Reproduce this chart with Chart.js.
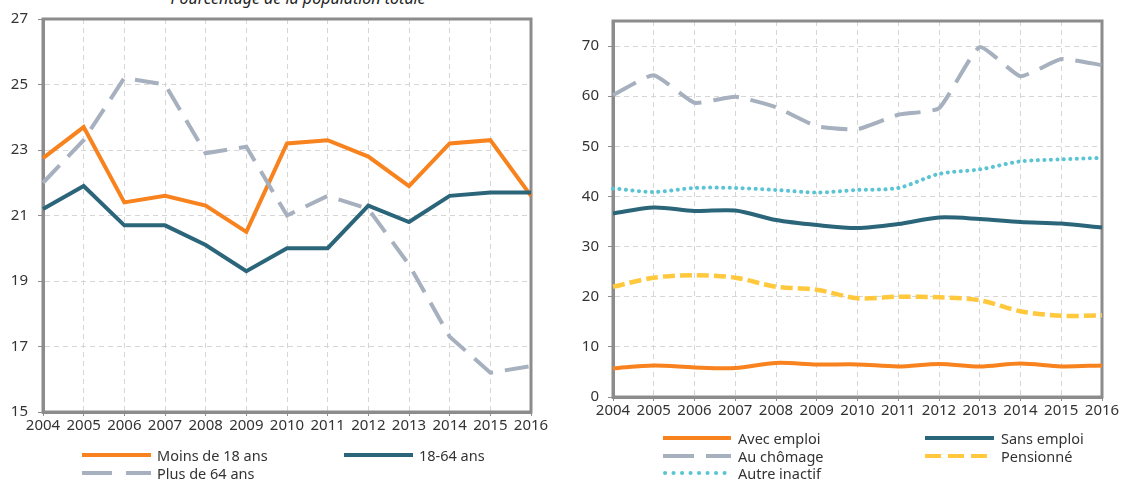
<!DOCTYPE html>
<html lang="fr">
<head>
<meta charset="utf-8">
<script src="https://cdn.jsdelivr.net/npm/chart.js@4.4.1/dist/chart.umd.min.js"></script>
<style>
  html, body { margin: 0; padding: 0; background: #fff; }
  body { width: 1121px; height: 482px; position: relative; overflow: hidden;
         font-family: "Noto Sans", "DejaVu Sans", sans-serif; color: #333; }
  canvas { position: absolute; top: 0; }
  #leftChart { left: 0; }
  #rightChart { left: 560px; }
  .title { position: absolute; left: 40px; width: 516px; top: -9px; line-height: 14px;
           text-align: center; font-style: italic; font-size: 16px; color: #222; }
  .lg { position: absolute; font-size: 14.5px; line-height: 18px; white-space: nowrap; color: #333; }
  svg.lgs { position: absolute; left: 0; top: 0; overflow: visible; }
</style>
</head>
<body>
<div class="title">Pourcentage de la population totale</div>
<canvas id="leftChart" width="560" height="440"></canvas>
<canvas id="rightChart" width="561" height="440"></canvas>
<svg class="lgs" width="1121" height="482" id="legendLines"></svg>
<div id="legendText"></div>

<script>
// years on both x axes
const years = ["2004", "2005", "2006", "2007", "2008", "2009", "2010",
  "2011", "2012", "2013", "2014", "2015", "2016"];

// left panel: share of total population, by age
const moins18 = [22.75, 23.7, 21.4, 21.6, 21.3, 20.5, 23.2, 23.3, 22.8, 21.9, 23.2, 23.3, 21.6];
const age1864 = [21.2, 21.9, 20.7, 20.7, 20.1, 19.3, 20.0, 20.0, 21.3, 20.8, 21.6, 21.7, 21.7];
const plus64 = [22.0, 23.3, 25.2, 25.0, 22.9, 23.1, 21.0, 21.6, 21.2, 19.5, 17.3, 16.2, 16.4];

// right panel: by activity status
const avecEmploi = [5.7, 6.3, 5.9, 5.8, 6.8, 6.5, 6.5, 6.1, 6.6, 6.1, 6.7, 6.1, 6.3];
const sansEmploi = [36.6, 37.8, 37.1, 37.2, 35.3, 34.3, 33.7, 34.5, 35.8, 35.5, 34.9, 34.6, 33.8];
const auChomage = [60.2, 64.2, 58.7, 59.9, 57.8, 54.0, 53.4, 56.3, 57.6, 69.8, 64.0, 67.4, 66.2];
const pensionne = [22.0, 23.8, 24.3, 23.8, 22.0, 21.4, 19.7, 20.0, 19.9, 19.3, 17.1, 16.2, 16.3];
const autreInactif = [41.6, 40.9, 41.7, 41.7, 41.3, 40.8, 41.3, 41.7, 44.5, 45.4, 47.0, 47.4, 47.7];

const leftTicks = [15, 17, 19, 21, 23, 25, 27];
const rightTicks = [0, 10, 20, 30, 40, 50, 60, 70];

const ORANGE = "#F7821E";
const TEAL = "#2B657A";
const GREY = "#A6B0BE";
const YELLOW = "#FFC83D";
const CYAN = "#5BC4D4";
const AXIS = "#8C8C8C";

Chart.defaults.font.family = '"Noto Sans", "DejaVu Sans", sans-serif';
Chart.defaults.font.size = 15;
Chart.defaults.color = "#333";

// closes the plot box on top and right
const frame = {
  id: "frame",
  beforeDatasetsDraw(chart) {
    const a = chart.chartArea;
    const ctx = chart.ctx;
    ctx.save();
    ctx.strokeStyle = AXIS;
    ctx.lineWidth = 3;
    ctx.strokeRect(a.left, a.top, a.right - a.left, a.bottom - a.top);
    ctx.restore();
  },
};

const makeScales = (min, max, tickList, yWidth, xHeight, yPad) => ({
  x: {
    type: "category",
    offset: false,
    grid: { color: "#D6D6D6", offset: false, tickLength: 4, tickColor: AXIS, tickBorderDash: [] },
    border: { display: true, color: AXIS, width: 3, dash: [5, 4] },
    ticks: { autoSkip: false, maxRotation: 0, padding: 1 },
    afterFit: (s) => { s.height = xHeight; },
  },
  y: {
    min: min,
    max: max,
    grid: { color: "#D6D6D6", tickLength: 5, tickColor: AXIS, tickBorderDash: [] },
    border: { display: true, color: AXIS, width: 3, dash: [5, 4] },
    ticks: { padding: yPad },
    afterBuildTicks: (s) => { s.ticks = tickList.map((v) => ({ value: v })); },
    afterFit: (s) => { s.width = yWidth; },
  },
});

const line = (label, data, color, width, dash, extra) => Object.assign({
  label: label,
  data: data,
  borderColor: color,
  backgroundColor: color,
  borderWidth: width,
  borderDash: dash,
  pointRadius: 0,
  fill: false,
}, extra || {});

new Chart(document.getElementById("leftChart"), {
  type: "line",
  data: {
    labels: years,
    datasets: [
      line("Plus de 64 ans", plus64, GREY, 4, [24, 12], { tension: 0 }),
      line("18-64 ans", age1864, TEAL, 4, [], { tension: 0 }),
      line("Moins de 18 ans", moins18, ORANGE, 4, [], { tension: 0 }),
    ],
  },
  options: {
    responsive: false,
    animation: false,
    devicePixelRatio: 1,
    layout: { padding: { left: 0, top: 17, right: 29, bottom: 0 } },
    plugins: { legend: { display: false }, tooltip: { enabled: false } },
    scales: makeScales(15, 27, leftTicks, 43, 28, 10),
  },
  plugins: [frame],
});

new Chart(document.getElementById("rightChart"), {
  type: "line",
  data: {
    labels: years,
    datasets: [
      line("Autre inactif", autreInactif, CYAN, 4, [0.1, 6.4], { borderCapStyle: "round", tension: 0.3 }),
      line("Pensionné", pensionne, YELLOW, 4.5, [12, 5], { tension: 0.3 }),
      line("Sans emploi", sansEmploi, TEAL, 4, [], { tension: 0.3 }),
      line("Avec emploi", avecEmploi, ORANGE, 4, [], { tension: 0.3 }),
      line("Au chômage", auChomage, GREY, 4, [26, 12], { tension: 0.15 }),
    ],
  },
  options: {
    responsive: false,
    animation: false,
    devicePixelRatio: 1,
    layout: { padding: { left: 0, top: 21, right: 19, bottom: 0 } },
    plugins: { legend: { display: false }, tooltip: { enabled: false } },
    scales: makeScales(0, 75, rightTicks, 53, 43, 9),
  },
  plugins: [frame],
});

// legend entries: [text, colour, width, dasharray, cap, x1, x2, y, textX]
const legendItems = [
  ["Moins de 18 ans", ORANGE, 4, "", "butt", 82, 151, 455, 157],
  ["18-64 ans", TEAL, 4, "", "butt", 344, 413, 455, 419],
  ["Plus de 64 ans", GREY, 4, "30 14", "butt", 82, 151, 473, 157],
  ["Avec emploi", ORANGE, 4, "", "butt", 663, 731, 438, 738],
  ["Sans emploi", TEAL, 4, "", "butt", 925, 994, 438, 1001],
  ["Au chômage", GREY, 4, "31 12", "butt", 663, 731, 456, 738],
  ["Pensionné", YELLOW, 4, "16 7", "butt", 925, 994, 456, 1001],
  ["Autre inactif", CYAN, 4, "0.1 8.4", "round", 665, 731, 473, 738],
];

const svg = document.getElementById("legendLines");
const holder = document.getElementById("legendText");
legendItems.forEach((it) => {
  const l = document.createElementNS("http://www.w3.org/2000/svg", "line");
  l.setAttribute("x1", it[5]);
  l.setAttribute("x2", it[6]);
  l.setAttribute("y1", it[7]);
  l.setAttribute("y2", it[7]);
  l.setAttribute("stroke", it[1]);
  l.setAttribute("stroke-width", it[2]);
  l.setAttribute("stroke-linecap", it[4]);
  if (it[3]) l.setAttribute("stroke-dasharray", it[3]);
  svg.appendChild(l);
  const t = document.createElement("div");
  t.className = "lg";
  t.style.left = it[8] + "px";
  t.style.top = (it[7] - 9) + "px";
  t.textContent = it[0];
  holder.appendChild(t);
});
</script>
</body>
</html>
